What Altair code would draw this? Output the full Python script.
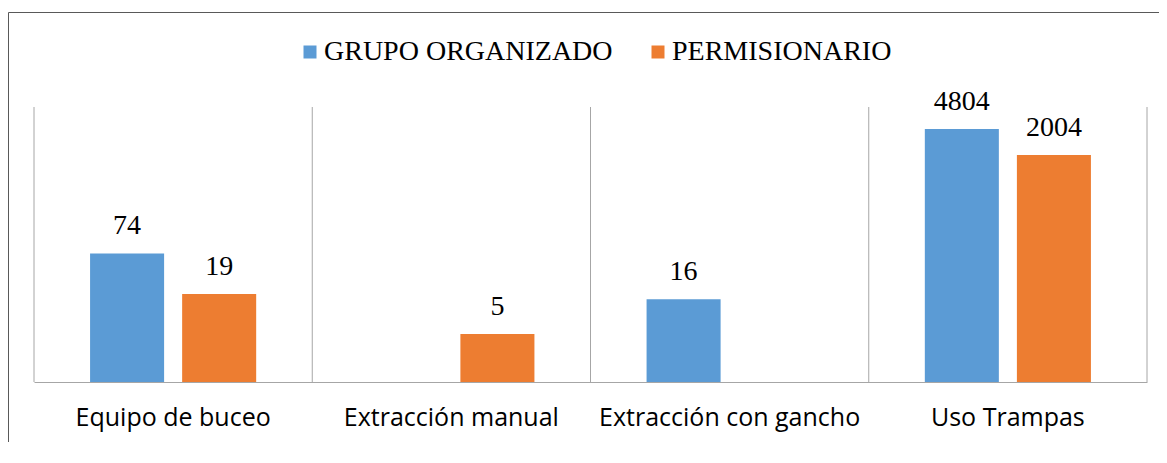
import altair as alt
import pandas as pd

categories = ["Equipo de buceo", "Extracción manual", "Extracción con gancho", "Uso Trampas"]
series = ["GRUPO ORGANIZADO", "PERMISIONARIO"]
grupo_organizado = [74, None, 16, 4804]
permisionario = [19, 5, None, 2004]
colors = ["#5b9bd5", "#ed7d31"]

rows = []
for c, g, p in zip(categories, grupo_organizado, permisionario):
    if g is not None:
        rows.append({"cat": c, "serie": series[0], "valor": g})
    if p is not None:
        rows.append({"cat": c, "serie": series[1], "valor": p})
df = pd.DataFrame(rows)
cats_df = pd.DataFrame({"cat": categories})

W = 1113
H = 275
GRID = "#a6a6a6"

xscale = alt.Scale(domain=categories, paddingInner=0, paddingOuter=0)
xoff = alt.Scale(domain=series, paddingInner=0.196, paddingOuter=0.609)
yscale = alt.Scale(type="log", domain=[1, 10000])

x_enc = alt.X("cat:N", scale=xscale, sort=categories, title=None,
              axis=alt.Axis(labelAngle=0, ticks=False, tickSize=0, grid=False,
                            labelFont="Open Sans", labelFontSize=25, labelColor="#000000",
                            labelBaseline="alphabetic", labelPadding=43, labelLimit=400,
                            domainColor=GRID, domainWidth=1))

bars = alt.Chart(df).mark_bar().encode(
    x=x_enc,
    xOffset=alt.XOffset("serie:N", scale=xoff, sort=series),
    y=alt.Y("valor:Q", scale=yscale, axis=None, stack=None),
    y2=alt.value(H),
    color=alt.Color("serie:N", scale=alt.Scale(domain=series, range=colors), sort=series,
                    legend=alt.Legend(title=None, orient="none", direction="horizontal",
                                      legendX=262, legendY=-69,
                                      symbolType="square", symbolSize=169,
                                      symbolStrokeWidth=0, labelOffset=0,
                                      labelFont="Liberation Serif", labelFontSize=28,
                                      labelColor="#000000", columnPadding=31,
                                      labelLimit=500)),
)

labels = alt.Chart(df).mark_text(baseline="alphabetic", dy=-19, font="Liberation Serif",
                                 fontSize=28, color="#000000").encode(
    x=alt.X("cat:N", scale=xscale, sort=categories, axis=None),
    xOffset=alt.XOffset("serie:N", scale=xoff, sort=series),
    y=alt.Y("valor:Q", scale=yscale, axis=None, stack=None),
    text=alt.Text("valor:Q"),
)

seps = alt.Chart(cats_df).mark_rule(color=GRID, strokeWidth=1).encode(
    x=alt.X("cat:N", scale=xscale, sort=categories, bandPosition=0, axis=None),
)

right_edge = alt.Chart(cats_df.head(1)).mark_rule(color=GRID, strokeWidth=1).encode(
    x=alt.value(W),
)

border_top = alt.Chart(cats_df.head(1)).mark_rule(color="#595959", strokeWidth=1).encode(
    x=alt.value(-25.5), x2=alt.value(W + 12), y=alt.value(-94.5),
)
border_left = alt.Chart(cats_df.head(1)).mark_rule(color="#595959", strokeWidth=1).encode(
    x=alt.value(-25.5), y=alt.value(-94.5), y2=alt.value(H + 60),
)

chart = alt.layer(bars, labels, seps, right_edge, border_top, border_left).resolve_axis(
    x="independent"
).properties(
    width=W, height=H,
    background="#ffffff",
    autosize=alt.AutoSizeParams(type="none"),
    padding={"left": 26, "top": 99, "right": 12, "bottom": 60},
).configure_view(stroke=None)

chart.save("out.html", embed_options={"renderer": "svg", "actions": False})
